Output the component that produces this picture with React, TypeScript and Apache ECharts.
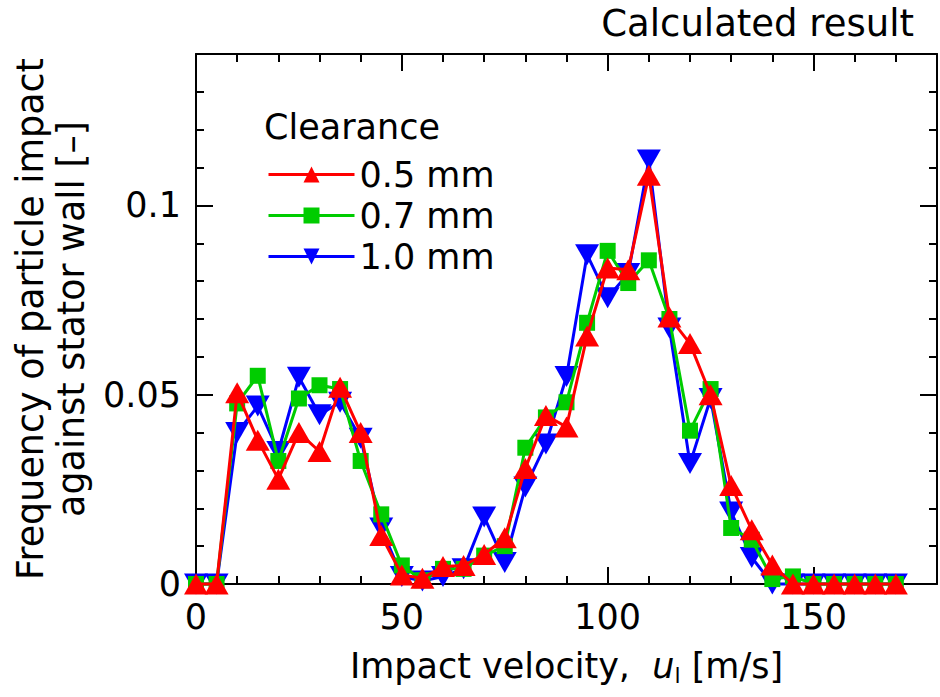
import React, { useEffect, useRef } from "react";
import * as echarts from "echarts";

const velocities = [0, 5, 10, 15, 20, 25, 30, 35, 40, 45, 50, 55, 60, 65, 70, 75, 80, 85, 90, 95, 100, 105, 110, 115, 120, 125, 130, 135, 140, 145, 150, 155, 160, 165, 170];

const clear05 = [0, 0, 0.0505, 0.038, 0.0277, 0.040, 0.035, 0.052, 0.040, 0.0128, 0.0024, 0.0015, 0.0046, 0.0049, 0.0078, 0.0122, 0.0305, 0.0445, 0.0415, 0.0655, 0.0835, 0.083, 0.108, 0.0705, 0.0635, 0.050, 0.026, 0.0143, 0.005, 0, 0, 0, 0, 0, 0];
const clear07 = [0, 0, 0.0477, 0.055, 0.0325, 0.049, 0.0525, 0.0515, 0.0325, 0.0184, 0.0049, 0.001, 0.004, 0.004, 0.0075, 0.010, 0.036, 0.044, 0.048, 0.069, 0.088, 0.0795, 0.0855, 0.070, 0.0405, 0.0515, 0.0148, 0.0117, 0.0013, 0.002, 0, 0, 0, 0, 0];
const clear10 = [0, 0, 0.040, 0.047, 0.035, 0.0546, 0.0447, 0.048, 0.0385, 0.0148, 0.002, 0.0008, 0.002, 0.004, 0.0177, 0.0057, 0.0256, 0.037, 0.0548, 0.087, 0.0756, 0.082, 0.112, 0.0676, 0.0318, 0.049, 0.019, 0.007, 0, 0, 0, 0, 0, 0, 0];

const seriesNames = ["0.5 mm", "0.7 mm", "1.0 mm"];
const xTickLabels = ["0", "50", "100", "150"];
const yTickLabels = ["0", "0.05", "0.1"];

const FONT = "'DejaVu Sans', 'Liberation Sans', Arial, sans-serif";
const FS = 35;

const pair = (ys: number[]) => velocities.map((x, i) => [x, ys[i]]);

export default function App() {
  const ref = useRef<HTMLDivElement>(null);
  useEffect(() => {
    if (!ref.current) return;
    const chart = echarts.init(ref.current, undefined, { renderer: "svg" });
    const axisCommon = {
      axisLine: { show: true, onZero: false, lineStyle: { color: "#000", width: 2 } },
      axisTick: { show: true, inside: true, length: 17, lineStyle: { color: "#000", width: 2 } },
      minorTick: { show: true, splitNumber: 5, length: 8, lineStyle: { color: "#000", width: 2 } },
      splitLine: { show: false },
      minorSplitLine: { show: false },
    };
    const xLabelFmt = (v: number) => {
      const s = String(Math.round(v));
      return xTickLabels.includes(s) && Math.abs(v - Math.round(v)) < 1e-9 ? s : "";
    };
    const yLabelFmt = (v: number) => {
      for (const t of yTickLabels) if (Math.abs(parseFloat(t) - v) < 1e-9) return t;
      return "";
    };
    const colors = { r: "#ff0000", g: "#00cc00", b: "#0000ff" };
    chart.setOption({
      animation: false,
      backgroundColor: "#fff",
      textStyle: { fontFamily: FONT },
      grid: { left: 196, right: 1, top: 54, bottom: 113, containLabel: false },
      xAxis: [
        {
          type: "value", min: 0, max: 180, interval: 50, position: "bottom",
          ...axisCommon,
          axisLabel: { formatter: xLabelFmt, fontSize: FS, color: "#000", margin: 15, fontFamily: FONT },
          name: "{a|Impact velocity,  }{u|u}{s|l}{a| [m/s]}",
          nameLocation: "middle",
          nameGap: 62,
          nameTextStyle: {
            rich: {
              a: { fontSize: FS, color: "#000", fontFamily: FONT, lineHeight: 40 },
              u: { fontSize: FS, color: "#000", fontFamily: FONT, fontStyle: "italic", lineHeight: 40 },
              s: { fontSize: 22, color: "#000", fontFamily: FONT, lineHeight: 14, verticalAlign: "bottom" },
            },
          },
        },
        {
          type: "value", min: 0, max: 180, interval: 50, position: "top",
          ...axisCommon,
          axisLabel: { show: false },
        },
      ],
      yAxis: [
        {
          type: "value", min: 0, max: 0.14, interval: 0.05, position: "left",
          ...axisCommon,
          axisLabel: { formatter: yLabelFmt, fontSize: FS, color: "#000", margin: 15, fontFamily: FONT },
          name: "Frequency of particle impact\nagainst stator wall [\u2013]",
          nameLocation: "middle",
          nameRotate: 90,
          nameGap: 104,
          nameTextStyle: { fontSize: 36.5, color: "#000", fontFamily: FONT, lineHeight: 41, align: "center" },
        },
        {
          type: "value", min: 0, max: 0.14, interval: 0.05, position: "right",
          ...axisCommon,
          axisLabel: { show: false },
        },
      ],
      legend: {
        data: seriesNames,
        orient: "vertical",
        left: 262,
        top: 152,
        itemWidth: 86,
        itemHeight: 20,
        itemGap: 6,
        lineStyle: { width: 3 },
        textStyle: { fontSize: FS, color: "#000", fontFamily: FONT },
      },
      graphic: [
        {
          type: "text", left: 264, top: 109,
          style: { text: "Clearance", fontSize: FS, fill: "#000", fontFamily: FONT },
        },
        {
          type: "text", right: 26, top: 5,
          style: { text: "Calculated result", fontSize: 37, fill: "#000", fontFamily: FONT },
        },
      ],
      series: [
        {
          name: seriesNames[2], type: "line", data: pair(clear10), clip: false,
          symbol: "triangle", symbolRotate: 180, symbolSize: [24, 21],
          lineStyle: { color: colors.b, width: 3 }, itemStyle: { color: colors.b },
          z: 2,
        },
        {
          name: seriesNames[1], type: "line", data: pair(clear07), clip: false,
          symbol: "rect", symbolSize: 16,
          lineStyle: { color: colors.g, width: 3 }, itemStyle: { color: colors.g },
          z: 3,
        },
        {
          name: seriesNames[0], type: "line", data: pair(clear05), clip: false,
          symbol: "triangle", symbolSize: [24, 21],
          lineStyle: { color: colors.r, width: 3 }, itemStyle: { color: colors.r },
          z: 4,
        },
      ],
    });
    return () => chart.dispose();
  }, []);
  return <div ref={ref} style={{ position: "absolute", left: 0, top: 0, width: 940, height: 697 }} />;
}
